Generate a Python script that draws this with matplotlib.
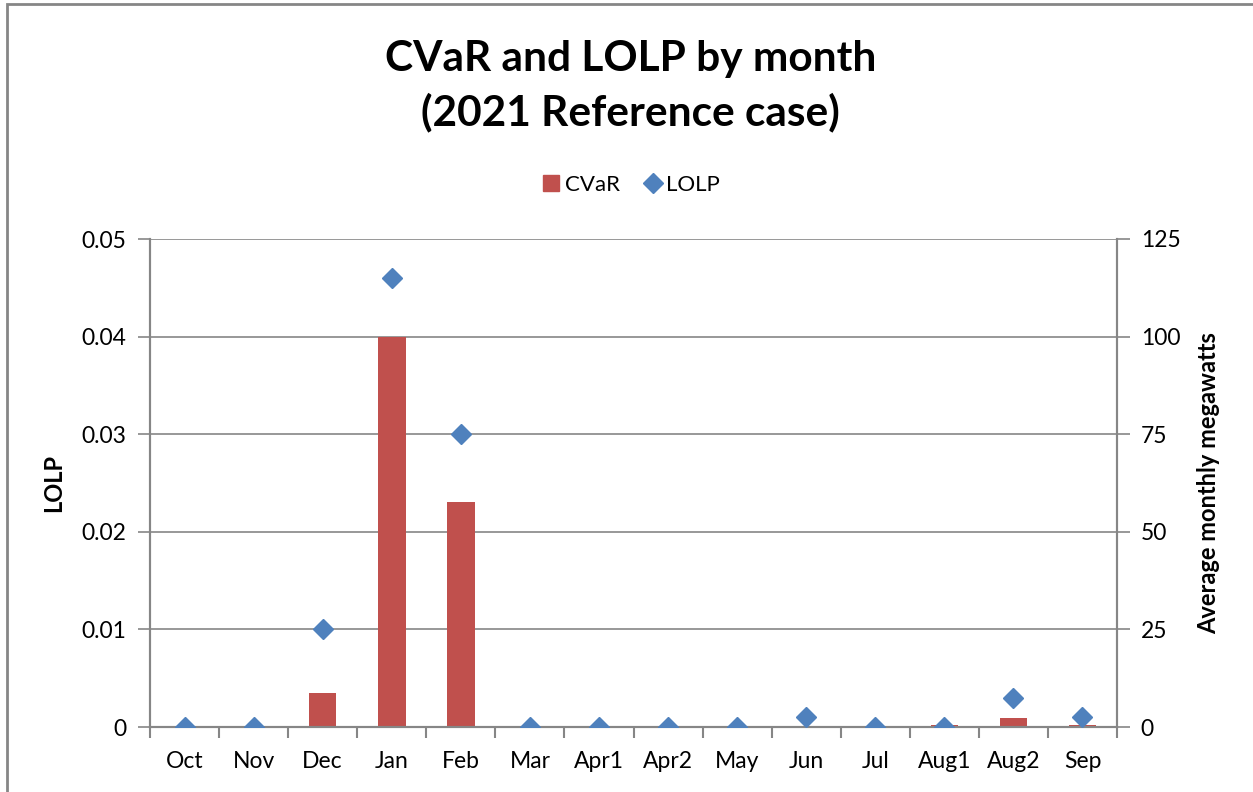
import matplotlib
matplotlib.use('Agg')
import matplotlib.pyplot as plt
from matplotlib.lines import Line2D
from matplotlib.patches import Rectangle

months = ['Oct', 'Nov', 'Dec', 'Jan', 'Feb', 'Mar', 'Apr1', 'Apr2',
          'May', 'Jun', 'Jul', 'Aug1', 'Aug2', 'Sep']
# CVaR, average monthly megawatts
cvar_mw = [0, 0, 8.8, 100, 57.6, 0, 0, 0, 0, 0.1, 0, 0.4, 2.2, 0.6]
# loss of load probability
lolp = [0, 0, 0.01, 0.046, 0.03, 0, 0, 0, 0, 0.001, 0, 0, 0.003, 0.001]

RED = '#C0504D'
BLUE = '#4F81BD'
GRID = '#868686'

plt.rcParams['font.family'] = ['Lato', 'DejaVu Sans']

W, H = 1253, 792
fig = plt.figure(figsize=(W / 100, H / 100), dpi=100)
fig.patches.append(Rectangle((7 / W, -0.1), 1.2, 1 - 4 / H + 0.1,
                             transform=fig.transFigure, fill=False,
                             edgecolor=GRID, linewidth=2))

left, right, top, bottom = 150, 1117, 239, 727
ax1 = fig.add_axes([left / W, 1 - bottom / H, (right - left) / W, (bottom - top) / H])
ax2 = ax1.twinx()

x = list(range(len(months)))

# bars on the megawatt axis (behind), diamonds on the LOLP axis (front)
ax2.bar(x, cvar_mw, width=0.4, color=RED, zorder=2)
ax2.set_ylim(0, 125)
ax2.set_yticks([0, 25, 50, 75, 100, 125])
ax2.yaxis.grid(True, color=GRID, linewidth=1.2, zorder=0)
ax2.set_axisbelow(True)
ax2.set_ylabel('Average monthly megawatts', fontsize=17, fontweight='bold', labelpad=12)

ax1.plot(x, lolp, linestyle='none', marker='D', markersize=10,
         color=BLUE, zorder=3)
ax1.set_ylim(0, 0.05)
ax1.set_yticks([0, 0.01, 0.02, 0.03, 0.04, 0.05])
ax1.set_yticklabels(['0', '0.01', '0.02', '0.03', '0.04', '0.05'])
ax1.set_ylabel('LOLP', fontsize=17, fontweight='bold', labelpad=12)
ax1.set_zorder(ax2.get_zorder() + 1)
ax1.patch.set_visible(False)

ax1.set_xlim(-0.5, len(months) - 0.5)
ax1.set_xticks(x)
ax1.set_xticklabels(months)
ax1.set_xticks([i - 0.5 for i in range(len(months) + 1)], minor=True)
ax1.tick_params(axis='x', which='major', length=0, labelsize=16.5, pad=17)
ax1.tick_params(axis='x', which='minor', length=8, width=1.5, color=GRID)

for ax in (ax1, ax2):
    ax.tick_params(axis='y', length=9, width=1.2, color=GRID, labelsize=16.5, pad=8)
    ax.spines['top'].set_visible(False)
    for s in ('left', 'right', 'bottom'):
        ax.spines[s].set_color(GRID)
        ax.spines[s].set_linewidth(1.5)

fig.text(0.503, 1 - 86 / H, 'CVaR and LOLP by month\n(2021 Reference case)',
         ha='center', va='center', fontsize=30.5, fontweight='bold', linespacing=1.45)

handles = [Line2D([], [], linestyle='none', marker='s', markersize=11, color=RED),
           Line2D([], [], linestyle='none', marker='D', markersize=10, color=BLUE)]
fig.legend(handles, ['CVaR', 'LOLP'], loc='center', ncol=2,
           bbox_to_anchor=(0.503, 1 - 185 / H), frameon=False, fontsize=16,
           handletextpad=0.1, columnspacing=1.0, handlelength=1.0)

fig.savefig('out.png', dpi=100)
